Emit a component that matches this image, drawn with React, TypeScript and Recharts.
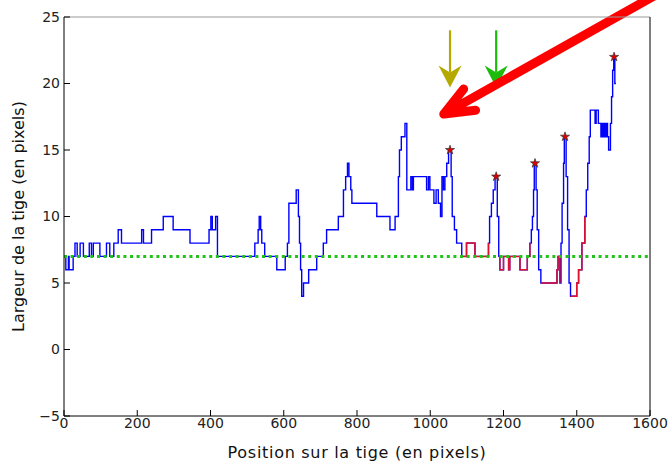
import React from "react";
import {
  ComposedChart,
  Line,
  Scatter,
  XAxis,
  YAxis,
  ZAxis,
  ReferenceLine,
} from "recharts";

// position sur la tige (px) -> largeur (px), palier par palier
const stemPos = [
  2, 5, 12, 14, 25, 30, 36, 44, 53, 69, 75, 80, 98, 116, 125, 136, 148, 157, 212, 217,
  239, 271, 298, 344, 396, 401, 405, 414, 419, 521, 530, 533, 537, 540, 548, 581, 604,
  610, 614, 634, 640, 643, 646, 649, 654, 668, 690, 708, 717, 749, 763, 769, 774, 778,
  783, 786, 854, 890, 904, 913, 916, 921, 931, 936, 947, 951, 954, 990, 995, 999, 1010,
  1016, 1022, 1028, 1032, 1036, 1040, 1045, 1050, 1057, 1060, 1066, 1072, 1086, 1099,
  1122, 1159, 1162, 1167, 1172, 1177, 1183, 1187, 1190, 1200, 1214, 1217, 1245, 1265,
  1272, 1276, 1279, 1282, 1284, 1289, 1292, 1296, 1302, 1346, 1349, 1354, 1357, 1360,
  1364, 1366, 1371, 1375, 1379, 1383, 1400, 1405, 1414, 1422, 1426, 1430, 1434, 1437,
  1450, 1453, 1459, 1466, 1469, 1472, 1475, 1478, 1481, 1484, 1487, 1492, 1495, 1498,
  1501, 1504, 1507,
];
const stemWidth = [
  7, 6, 7, 6, 7, 8, 7, 8, 7, 8, 7, 8, 7, 8, 7, 8, 9, 8, 9, 8,
  9, 10, 9, 8, 9, 10, 9, 10, 7, 8, 9, 10, 9, 8, 7, 6, 7,
  8, 11, 12, 10, 8, 6, 4, 5, 6, 7, 8, 9, 10, 12, 13, 14, 13,
  12, 11, 10, 9, 10, 13, 15, 16, 17, 12, 13, 12, 13, 12, 13, 12, 11,
  12, 11, 10, 13, 12, 13, 14, 15, 13, 10, 9, 8, 7, 8,
  7, 8, 10, 11, 12, 13, 10, 7, 6, 7, 6, 7, 6, 7,
  8, 9, 10, 12, 14, 12, 9, 6, 5, 6, 7, 5, 8, 11,
  14, 16, 13, 9, 5, 4, 5, 6, 8, 10, 12, 14, 16, 18,
  17, 18, 17, 16, 17, 16, 17, 16, 17, 16, 15, 17, 19, 21,
  22, 20, 20,
];

// tronçons tracés en rouge
const redRanges = [
  [1086, 1159],
  [1187, 1272],
  [1302, 1354],
  [1383, 1422],
];

// maxima marqués d'une étoile
const peakPos = [1054, 1180, 1286, 1368, 1502];
const peakWidth = [15, 13, 14, 16, 22];

const baseline = 7;
const xTicks = [0, 200, 400, 600, 800, 1000, 1200, 1400, 1600];
const yTicks = [-5, 0, 5, 10, 15, 20, 25];

// flèches d'annotation (unités des données)
const pointerTop = 24;
const pointerTip = 19.7;
const bigArrow = { from: [1709, 28.1], to: [1037, 17.7] };

const chartData = stemPos.map((x, i) => {
  const red = redRanges.some(([a, b]) => x >= a && x <= b);
  return { x, w: stemWidth[i], r: red ? stemWidth[i] : null };
});
const peaks = peakPos.map((x, i) => ({ x, y: peakWidth[i] }));

const minus = (v: number) => String(v).replace("-", "\u2212");

const dropArrow = (color: string) => (props: any) => {
  const { x1, y1, x2, y2 } = props;
  const headLen = 22;
  const half = 11.5;
  const notch = 7;
  return (
    <g>
      <line x1={x1} y1={y1} x2={x2} y2={y2 - headLen + notch} stroke={color} strokeWidth={2.2} />
      <polygon
        points={`${x2},${y2} ${x2 - half},${y2 - headLen} ${x2},${y2 - headLen + notch} ${x2 + half},${y2 - headLen}`}
        fill={color}
      />
    </g>
  );
};

const redArrow = (props: any) => {
  const { x1, y1, x2, y2 } = props;
  const a = Math.atan2(y1 - y2, x1 - x2);
  const len = 32;
  const spread = 0.39;
  const w1x = x2 + len * Math.cos(a + spread);
  const w1y = y2 + len * Math.sin(a + spread);
  const w2x = x2 + len * Math.cos(a - spread);
  const w2y = y2 + len * Math.sin(a - spread);
  return (
    <path
      d={`M${x1},${y1} L${x2},${y2} M${w1x},${w1y} L${x2},${y2} L${w2x},${w2y}`}
      stroke="#ff0000"
      strokeWidth={9}
      strokeLinecap="round"
      strokeLinejoin="round"
      fill="none"
    />
  );
};

const tickStyle = { fill: "#222", fontSize: 14 };

export default function App() {
  return (
    <div style={{ position: "absolute", left: 0, top: 0, fontFamily: "'DejaVu Sans', sans-serif" }}>
      <ComposedChart width={670} height={462} data={chartData} margin={{ top: 0, right: 0, bottom: 0, left: 0 }}>
        <XAxis
          dataKey="x"
          type="number"
          domain={[0, 1600]}
          ticks={xTicks}
          allowDataOverflow
          height={46}
          tickSize={-6}
          tickMargin={8}
          stroke="#000"
          tick={tickStyle}
          label={{
            value: "Position sur la tige (en pixels)",
            position: "insideBottom",
            offset: 4,
            fill: "#111",
            fontSize: 16,
            style: { letterSpacing: "0.7px" },
          }}
        />
        <XAxis
          xAxisId="top"
          orientation="top"
          dataKey="x"
          type="number"
          domain={[0, 1600]}
          ticks={xTicks}
          height={17}
          tickSize={-6}
          stroke="#999"
          tick={false}
        />
        <YAxis
          type="number"
          domain={[-5, 25]}
          ticks={yTicks}
          allowDataOverflow
          width={64}
          tickSize={-6}
          tickMargin={10}
          stroke="#000"
          tick={tickStyle}
          tickFormatter={minus}
          label={{
            value: "Largeur de la tige (en pixels)",
            angle: -90,
            position: "insideLeft",
            offset: 18,
            fill: "#111",
            fontSize: 16,
            style: { textAnchor: "middle" },
          }}
        />
        <YAxis
          yAxisId="right"
          orientation="right"
          type="number"
          domain={[-5, 25]}
          ticks={yTicks}
          width={20}
          tickSize={-6}
          stroke="#000"
          tick={false}
        />
        <ZAxis range={[26, 26]} />
        <Line
          dataKey="w"
          type="stepAfter"
          stroke="#0000ff"
          strokeWidth={1.4}
          dot={false}
          activeDot={false}
          isAnimationActive={false}
        />
        <Line
          dataKey="r"
          type="stepAfter"
          stroke="#e0102e"
          strokeWidth={1.5}
          dot={false}
          activeDot={false}
          connectNulls={false}
          isAnimationActive={false}
        />
        <ReferenceLine y={baseline} stroke="#22c21a" strokeWidth={3} strokeDasharray="3 3.6" />
        <Scatter data={peaks} dataKey="y" shape="star" fill="#dd0000" stroke="#333" strokeWidth={0.7} isAnimationActive={false} />
        <ReferenceLine
          segment={[{ x: peakPos[0], y: pointerTop }, { x: peakPos[0], y: pointerTip }]}
          ifOverflow="visible"
          shape={dropArrow("#b5a900")}
        />
        <ReferenceLine
          segment={[{ x: peakPos[1], y: pointerTop }, { x: peakPos[1], y: pointerTip }]}
          ifOverflow="visible"
          shape={dropArrow("#1dbb0c")}
        />
        <ReferenceLine
          segment={[
            { x: bigArrow.from[0], y: bigArrow.from[1] },
            { x: bigArrow.to[0], y: bigArrow.to[1] },
          ]}
          ifOverflow="visible"
          shape={redArrow}
        />
      </ComposedChart>
    </div>
  );
}
